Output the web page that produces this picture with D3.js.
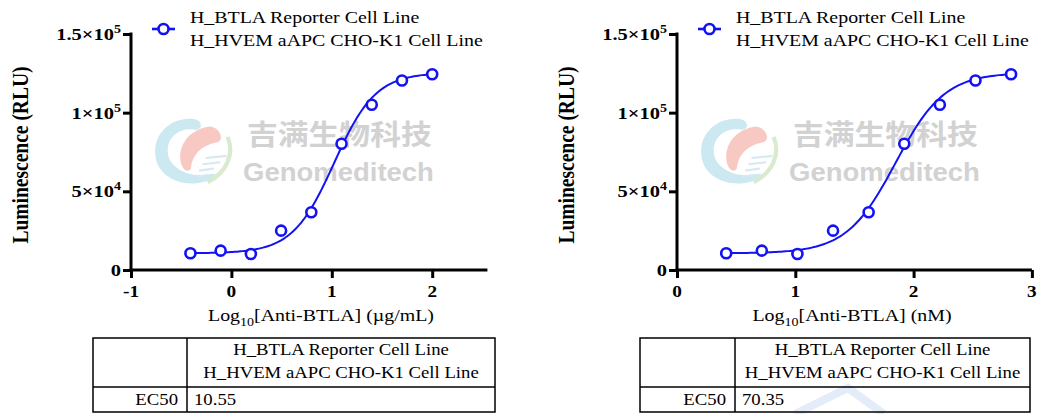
<!DOCTYPE html>
<html>
<head>
<meta charset="utf-8">
<script src="https://cdn.jsdelivr.net/npm/d3@7"></script>
<style>
  body { margin: 0; background: #fff; }
  svg { display: block; }
</style>
</head>
<body>
<svg id="chart" width="1037" height="414"></svg>
<script>
// ---- data ----
const doseLogUg = [-0.408, -0.107, 0.194, 0.495, 0.796, 1.097, 1.398, 1.699, 2.0];
const doseLogNM = [0.416, 0.717, 1.018, 1.319, 1.620, 1.921, 2.222, 2.523, 2.824];
const rlu = [10600, 12300, 10200, 25000, 36700, 80200, 105000, 120400, 124400];
const ec50Values = ["10.55", "70.35"];
const ec50Numbers = [10.55, 70.35];
const fitBottom = 10600, fitTop = 125500, fitHill = 2.1;
const yTicks = [0, 50000, 100000, 150000];
const yTickLabels = [["0", ""], ["5×10", "4"], ["1×10", "5"], ["1.5×10", "5"]];
const xTicksUg = [-1, 0, 1, 2];
const xTicksNM = [0, 1, 2, 3];
const xTitleUnits = ["(µg/mL)", "(nM)"];
const legendLines = ["H_BTLA Reporter Cell Line", "H_HVEM aAPC CHO-K1 Cell Line"];
const rowLabel = "EC50";

const svg = d3.select("#chart");
const blue = "#1212f5";
const SX = 1.17; // the reference text is a bit wide

function stretchText(parent, x, y, str, size, opts) {
  opts = opts || {};
  const t = parent.append("text")
    .attr("transform", "translate(" + x + "," + y + ") scale(" + SX + ",1)" + (opts.rotate ? " rotate(" + opts.rotate + ")" : ""))
    .attr("font-family", "'Liberation Serif', 'Times New Roman', serif")
    .attr("font-size", size)
    .attr("font-weight", opts.bold ? "bold" : "normal")
    .attr("text-anchor", opts.anchor || "start")
    .attr("fill", "#000");
  if (str !== null) t.text(str);
  return t;
}

function watermark(g, ax) {
  const w = g.append("g").attr("class", "watermark");
  const logo = w.append("g").attr("transform", "translate(" + (ax + 22) + ",116) scale(1.05)").attr("opacity", 0.85);
  logo.append("path")
    .attr("d", "M40 3 C20 0 2 14 2 34 C2 54 20 66 42 64 C52 63 60 59 63 56 L56 55 C36 60 14 50 14 33 C14 19 26 11 40 13 C47 14 48 5 40 3 Z")
    .attr("fill", "#c4e5ef");
  logo.append("path")
    .attr("d", "M54 10 C38 12 25 24 26 41 C27 51 33 55 36 50 C37 38 45 28 61 25 C68 24 65 11 54 10 Z")
    .attr("fill", "#f6c0b8");
  logo.append("path")
    .attr("d", "M71 20 C78 36 70 54 52 63")
    .attr("fill", "none").attr("stroke", "#d3e8c6").attr("stroke-width", 4);
  [[50, 40], [47, 46], [44, 52], [42, 58]].forEach(function (p, i) {
    logo.append("line")
      .attr("x1", p[0]).attr("x2", p[0] + 20 - i * 3)
      .attr("y1", p[1]).attr("y2", p[1] - 2)
      .attr("stroke", "#cfe6ee").attr("stroke-width", 2);
  });
  w.append("text")
    .attr("transform", "translate(" + (ax + 116) + ",145) scale(1.1,1)")
    .attr("font-family", "'Noto Sans CJK SC', sans-serif")
    .attr("font-weight", "bold").attr("font-size", 28)
    .attr("fill", "#d2d2d2").text("吉满生物科技");
  w.append("text")
    .attr("transform", "translate(" + (ax + 112) + ",181) scale(1.1,1)")
    .attr("font-family", "'Liberation Sans', Arial, sans-serif")
    .attr("font-weight", "bold").attr("font-size", 25)
    .attr("fill", "#d2d2d2").text("Genomeditech");
}

function drawPanel(p) {
  const g = svg.append("g");
  const ax = p.axisX;

  const x = d3.scaleLinear().domain(p.xDomain).range([ax, ax + p.pxPerUnit * (p.xDomain[1] - p.xDomain[0])]);
  const y = d3.scaleLinear().domain([0, 150000]).range([270, 34]);

  watermark(g, ax);

  // axes
  const yAxis = g.append("g").attr("transform", "translate(" + ax + ",0)")
    .call(d3.axisLeft(y).tickValues(yTicks).tickSize(8).tickSizeOuter(0).tickFormat(""));
  const xAxis = g.append("g").attr("transform", "translate(0,270)")
    .call(d3.axisBottom(x).tickValues(p.xTicks).tickSize(8).tickSizeOuter(0).tickFormat(""));
  [yAxis, xAxis].forEach(function (a) {
    a.select(".domain").attr("stroke", "#000").attr("stroke-width", 3);
    a.selectAll(".tick line").attr("stroke", "#000").attr("stroke-width", 3);
  });
  xAxis.select(".domain").attr("d", "M" + (ax - 1.5) + ",0H" + x.range()[1]);
  yAxis.select(".domain").attr("d", "M0,271.5V" + (y(150000) - 1.5));

  // y tick labels with superscripts
  yTicks.forEach(function (v, i) {
    const t = stretchText(g, ax - 10, y(v) + 6, null, 17.5, { bold: true, anchor: "end" });
    t.append("tspan").text(yTickLabels[i][0]);
    if (yTickLabels[i][1]) {
      t.append("tspan").attr("font-size", 12).attr("dy", -7).text(yTickLabels[i][1]);
    }
  });
  // x tick labels
  p.xTicks.forEach(function (v) {
    stretchText(g, x(v), 297, String(v), 16.5, { bold: true, anchor: "middle" });
  });

  // axis titles
  const xt = stretchText(g, p.xTitleX, 321, null, 17, { anchor: "middle" });
  xt.append("tspan").text("Log");
  xt.append("tspan").attr("font-size", 12).attr("dy", 5).text("10");
  xt.append("tspan").attr("dy", -5).text("[Anti-BTLA] " + p.units);
  stretchText(g, ax - 103, 155, "Luminescence (RLU)", 19.5, { bold: true, anchor: "middle", rotate: -90 });

  // fitted 4PL curve
  const logEc = Math.log10(p.ec50);
  const xs = p.doses;
  const fit = d3.range(0, 121).map(function (i) {
    const lx = xs[0] + (xs[xs.length - 1] - xs[0]) * i / 120;
    return [lx, fitBottom + (fitTop - fitBottom) / (1 + Math.pow(10, (logEc - lx) * fitHill))];
  });
  g.append("path")
    .datum(fit)
    .attr("fill", "none").attr("stroke", blue).attr("stroke-width", 2)
    .attr("d", d3.line().x(function (d) { return x(d[0]); }).y(function (d) { return y(d[1]); }));

  g.selectAll("circle.pt")
    .data(xs.map(function (d, i) { return [d, rlu[i]]; }))
    .join("circle").attr("class", "pt")
    .attr("cx", function (d) { return x(d[0]); })
    .attr("cy", function (d) { return y(d[1]); })
    .attr("r", 5).attr("fill", "#fff").attr("stroke", blue).attr("stroke-width", 2.6);

  // legend
  const lx = ax + 21;
  g.append("line").attr("x1", lx).attr("x2", lx + 23).attr("y1", 29).attr("y2", 29)
    .attr("stroke", blue).attr("stroke-width", 2.6);
  g.append("circle").attr("cx", lx + 11.5).attr("cy", 29).attr("r", 5)
    .attr("fill", "#fff").attr("stroke", blue).attr("stroke-width", 2.6);
  legendLines.forEach(function (s, i) {
    stretchText(g, lx + 38, 23 + i * 23, s, 17);
  });

  // EC50 table
  const tb = p.table;
  const tg = g.append("g");
  tg.append("rect").attr("x", tb.x0).attr("y", 338).attr("width", tb.x1 - tb.x0).attr("height", 74)
    .attr("fill", "none").attr("stroke", "#000").attr("stroke-width", 1.5);
  tg.append("line").attr("x1", tb.xc).attr("x2", tb.xc).attr("y1", 338).attr("y2", 412)
    .attr("stroke", "#000").attr("stroke-width", 1.5);
  tg.append("line").attr("x1", tb.x0).attr("x2", tb.x1).attr("y1", 387).attr("y2", 387)
    .attr("stroke", "#000").attr("stroke-width", 1.5);
  legendLines.forEach(function (s, i) {
    stretchText(tg, (tb.xc + tb.x1) / 2, 355 + i * 23, s, 16, { anchor: "middle" });
  });
  stretchText(tg, tb.xc - 9, 405, rowLabel, 16, { anchor: "end" });
  stretchText(tg, tb.xc + 7, 405, p.ec50Label, 16);
}

// faint watermark stroke behind the right table
svg.append("path").attr("d", "M795 414 L848 388 L884 414")
  .attr("fill", "none").attr("stroke", "#e3ecf8").attr("stroke-width", 8);

drawPanel({
  axisX: 131, xDomain: [-1, 2.55], pxPerUnit: 100.4, xTicks: xTicksUg,
  doses: doseLogUg, ec50: ec50Numbers[0], ec50Label: ec50Values[0], units: xTitleUnits[0],
  xTitleX: 321, table: { x0: 93, xc: 187, x1: 495 }
});
drawPanel({
  axisX: 677, xDomain: [0, 3], pxPerUnit: 118.3, xTicks: xTicksNM,
  doses: doseLogNM, ec50: ec50Numbers[1], ec50Label: ec50Values[1], units: xTitleUnits[1],
  xTitleX: 852, table: { x0: 640, xc: 735, x1: 1030 }
});
</script>
</body>
</html>
